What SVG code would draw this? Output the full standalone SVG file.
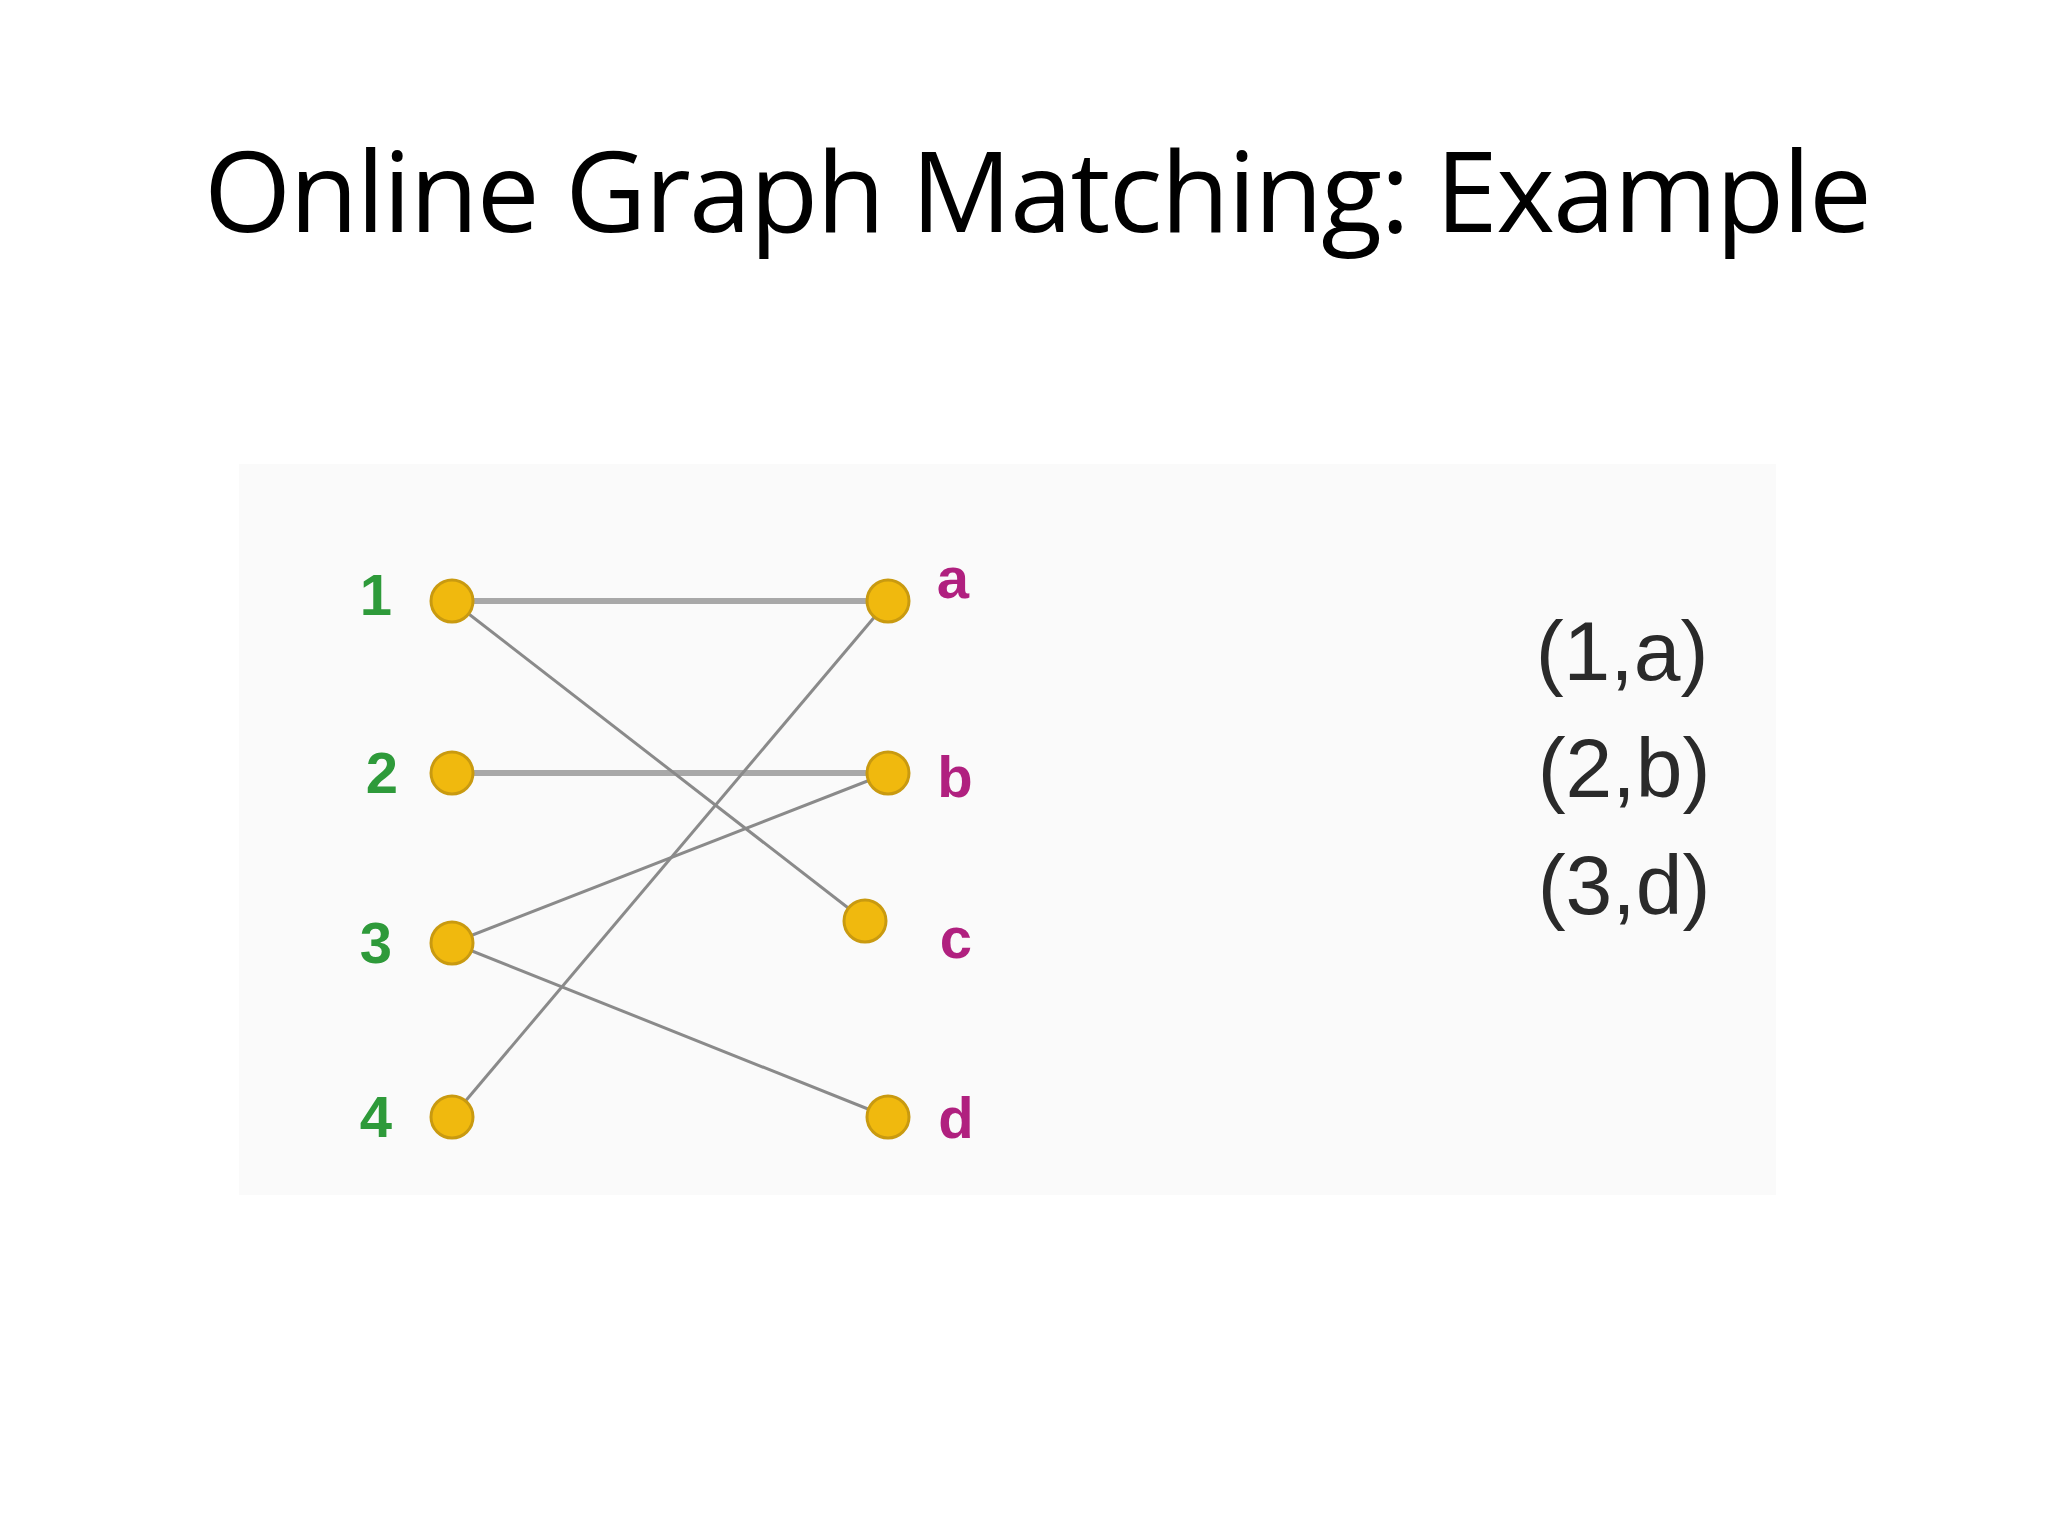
<svg xmlns="http://www.w3.org/2000/svg" width="2048" height="1536" viewBox="0 0 2048 1536">
<style>
.n{fill:#f0b90e;stroke:#c99a10;stroke-width:3}
.l{font-family:"Liberation Sans",Arial,sans-serif;font-weight:bold;font-size:58px;text-anchor:middle}
.g{fill:#2e9a3a}.m{fill:#b0207f}
.e{stroke:#8a8a8a;stroke-width:3;fill:none}
.t{stroke:#a8a8a8;stroke-width:6}
.r{font-family:"Liberation Sans",Arial,sans-serif;font-size:84px;fill:#2a2a2a;text-anchor:middle}
</style>
<rect width="2048" height="1536" fill="#fff"/>
<rect x="239" y="464" width="1537" height="731" fill="#fafafa"/>
<text x="1038" y="232" font-family="'Open Sans','Noto Sans',sans-serif" font-size="112" text-anchor="middle" textLength="1668" fill="#000">Online Graph Matching: Example</text>
<g id="connectors">
<line class="e t" x1="452" y1="601" x2="888" y2="601"/>
<line class="e t" x1="452" y1="773" x2="888" y2="773"/>
<line class="e" x1="452" y1="601" x2="865" y2="921"/>
<line class="e" x1="452" y1="943" x2="888" y2="773"/>
<line class="e" x1="452" y1="943" x2="888" y2="1117"/>
<line class="e" x1="452" y1="1117" x2="888" y2="601"/>
</g>
<g id="n1"><circle class="n" cx="452" cy="601" r="21"/><text class="l g" x="376" y="615">1</text></g>
<g id="n2"><circle class="n" cx="452" cy="773" r="21"/><text class="l g" x="382" y="793">2</text></g>
<g id="n3"><circle class="n" cx="452" cy="943" r="21"/><text class="l g" x="376" y="963">3</text></g>
<g id="n4"><circle class="n" cx="452" cy="1117" r="21"/><text class="l g" x="376" y="1137">4</text></g>
<g id="na"><circle class="n" cx="888" cy="601" r="21"/><text class="l m" x="953" y="598">a</text></g>
<g id="nb"><circle class="n" cx="888" cy="773" r="21"/><text class="l m" x="955" y="797">b</text></g>
<g id="nc"><circle class="n" cx="865" cy="921" r="21"/><text class="l m" x="956" y="958">c</text></g>
<g id="nd"><circle class="n" cx="888" cy="1117" r="21"/><text class="l m" x="956" y="1138">d</text></g>
<text class="r" x="1622" y="680">(1,a)</text>
<text class="r" x="1624" y="797">(2,b)</text>
<text class="r" x="1624" y="914">(3,d)</text>
</svg>
